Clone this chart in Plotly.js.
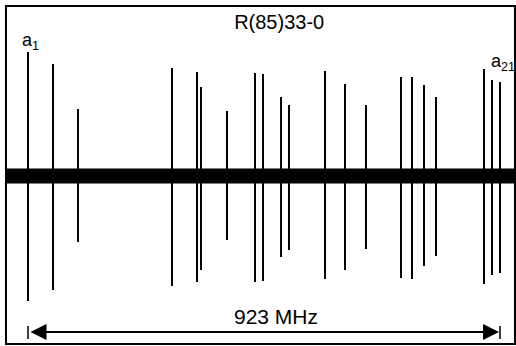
<!DOCTYPE html>
<html>
<head>
<meta charset="utf-8">
<script src="https://cdn.plot.ly/plotly-3.0.1.min.js"></script>
<style>html,body{margin:0;padding:0;background:#fff;}#chart{width:516px;height:346px;}</style>
</head>
<body>
<div id="chart"></div>
<script>
// Line positions (MHz, relative to a1) and amplitudes (arb. units, up and down lobes)
const lineLabels = ["a1","a2","a3","a4","a5","a6","a7","a8","a9","a10","a11","a12","a13","a14","a15","a16","a17","a18","a19","a20","a21"];
const freqMHz = [0, 48.9, 97.8, 281.6, 330.5, 338.3, 389.1, 443.9, 459.5, 494.8, 510.4, 580.8, 619.9, 661.0, 729.4, 750.9, 774.4, 797.8, 891.7, 907.4, 923];
const ampUp   = [124, 112, 67, 108, 104, 89, 65, 103, 102, 79, 71, 105, 92, 71, 99, 99, 91, 79, 107, 96, 94];
const ampDown = [125, 114, 66, 110, 106, 94, 64, 106, 105, 81, 74, 103, 94, 73, 102, 103, 90, 80, 108, 99, 97];
const spanMHz = 923;
const titleText = "R(85)33-0";

const xs = [], ys = [];
for (let i = 0; i < freqMHz.length; i++) {
  xs.push(freqMHz[i], freqMHz[i], null);
  ys.push(ampUp[i], -ampDown[i], null);
}

const xMin = -41.1, xMax = 950.4;

const traces = [
  { // noisy baseline band
    x: [xMin, xMax], y: [0, 0], mode: 'lines',
    line: {color: '#000', width: 15}, hoverinfo: 'skip', showlegend: false
  },
  {
    x: xs, y: ys, mode: 'lines',
    line: {color: '#000', width: 2}, hoverinfo: 'skip', showlegend: false
  }
];

const layout = {
  width: 516, height: 346,
  margin: {l: 7, r: 2, t: 7, b: 3},
  paper_bgcolor: '#fff', plot_bgcolor: '#fff',
  font: {family: 'Liberation Sans, Arial, sans-serif', color: '#000'},
  title: {text: titleText, font: {size: 20, color: '#000'}, x: 0.541, xanchor: 'center', xref: 'container', y: 0.935, yanchor: 'middle', yref: 'container'},
  xaxis: {range: [xMin, xMax], showgrid: false, zeroline: false, showticklabels: false, ticks: '',
          showline: true, mirror: true, linecolor: '#000', linewidth: 2},
  yaxis: {range: [-167, 169], showgrid: false, zeroline: false, showticklabels: false, ticks: '',
          showline: true, mirror: true, linecolor: '#000', linewidth: 2},
  shapes: [
    {type: 'line', xref: 'x', yref: 'y', x0: freqMHz[0], x1: freqMHz[0], y0: -150, y1: -163, line: {color: '#000', width: 1.5}},
    {type: 'line', xref: 'x', yref: 'y', x0: spanMHz, x1: spanMHz, y0: -150, y1: -163, line: {color: '#000', width: 1.5}}
  ],
  annotations: [
    {x: spanMHz, y: -156, ax: freqMHz[0], ay: -156, xref: 'x', yref: 'y', axref: 'x', ayref: 'y',
     text: '', showarrow: true, arrowhead: 2, startarrowhead: 2, arrowside: 'end+start',
     arrowsize: 1.6, startarrowsize: 1.6, arrowwidth: 2, arrowcolor: '#000', standoff: 1, startstandoff: 1},
    {x: 485, y: -140, xref: 'x', yref: 'y', text: spanMHz + ' MHz', showarrow: false,
     font: {size: 21, color: '#000'}, xanchor: 'center', yanchor: 'middle'},
    {x: 4, y: 135, xref: 'x', yref: 'y', text: 'a<sub>1</sub>', showarrow: false,
     font: {size: 18, color: '#000'}, xanchor: 'center', yanchor: 'middle'},
    {x: 928, y: 114, xref: 'x', yref: 'y', text: 'a<sub>21</sub>', showarrow: false,
     font: {size: 18, color: '#000'}, xanchor: 'center', yanchor: 'middle'}
  ]
};

Plotly.newPlot('chart', traces, layout, {displayModeBar: false, staticPlot: true});
</script>
</body>
</html>
